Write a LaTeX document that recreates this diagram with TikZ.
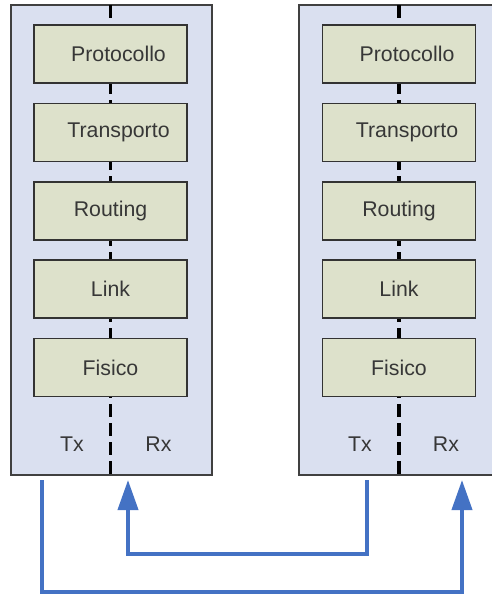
\documentclass[tikz,border=0pt]{standalone}
\usepackage{fontspec}
\setmainfont{Liberation Sans}
\usetikzlibrary{arrows.meta}
\definecolor{stackfill}{RGB}{218,224,240}
\definecolor{layerfill}{RGB}{221,225,203}
\definecolor{linkblue}{RGB}{68,114,196}
\definecolor{textgray}{RGB}{55,55,55}
\begin{document}
\begin{tikzpicture}[x=1pt,y=-1pt,
  stack/.style={draw=black!75, line width=1.3pt, fill=stackfill,
    minimum width=201pt, minimum height=470pt, inner sep=0pt},
  layer/.style={draw=black!80, line width=1.3pt, fill=layerfill,
    minimum width=153pt, minimum height=58pt, inner sep=0pt,
    text=textgray, font=\fontsize{21.3}{25}\selectfont},
  lbl/.style={text=textgray, font=\fontsize{21.3}{25}\selectfont, inner sep=0pt},
  sep/.style={line width=3.5pt, dash pattern=on 13pt off 6pt},
  link/.style={draw=linkblue, line width=4pt,
    -{Triangle[width=20pt,length=30pt]}},
]
\useasboundingbox (0,0) rectangle (492,595);
\clip (0,0) rectangle (492,595);

% two protocol stacks
\node[stack] (stackA) at (111.5,240) {};
\node[stack] (stackB) at (399.5,240) {};

% Tx/Rx separators, drawn under the layer boxes
\draw[sep] (110.5,5) -- (110.5,475);
\draw[sep] (399,5) -- (399,475);

% layers of the left stack
\node[layer] (A1) at (110.5,54)  {\hspace*{16pt}Protocollo};
\node[layer] (A2) at (110.5,132.5) {\hspace*{16pt}Transporto};
\node[layer] (A3) at (110.5,211) {Routing};
\node[layer] (A4) at (110.5,289) {Link};
\node[layer] (A5) at (110.5,367.5) {Fisico};

% layers of the right stack
\node[layer] (B1) at (399,54)  {\hspace*{16pt}Protocollo};
\node[layer] (B2) at (399,132.5) {\hspace*{16pt}Transporto};
\node[layer] (B3) at (399,211) {Routing};
\node[layer] (B4) at (399,289) {Link};
\node[layer] (B5) at (399,367.5) {Fisico};

% transmit / receive sides
\node[lbl] (txA) at (72,444) {Tx};
\node[lbl] (rxA) at (158.5,444) {Rx};
\node[lbl] (txB) at (360,444) {Tx};
\node[lbl] (rxB) at (446,444) {Rx};

% ends of the physical links
\coordinate (txAend) at (42,480);
\coordinate (rxAend) at (128,480);
\coordinate (txBend) at (367,480);
\coordinate (rxBend) at (462,480);

\draw[link] (txAend) -- (42,592) -| (rxBend);
\draw[link] (txBend) -- (367,554) -| (rxAend);
\end{tikzpicture}
\end{document}
